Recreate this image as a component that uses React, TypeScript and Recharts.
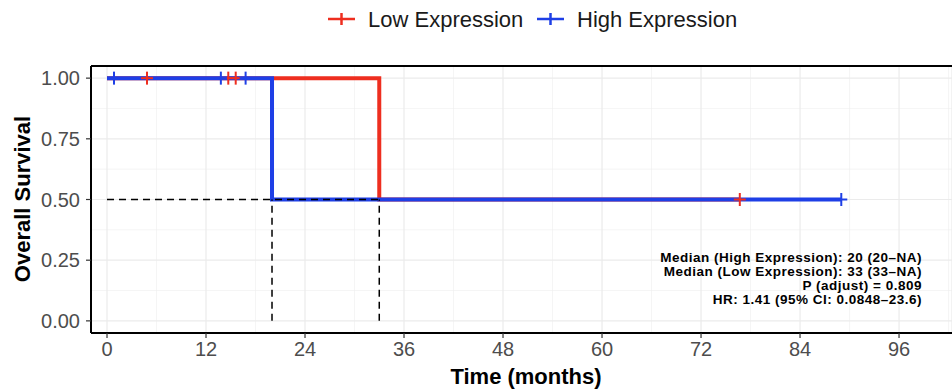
import {
  ComposedChart,
  Line,
  Scatter,
  XAxis,
  YAxis,
  CartesianGrid,
  ReferenceLine,
} from 'recharts'

// survival curves (step functions)
const lowTimes = [0, 33, 76.7]
const lowSurv = [1, 0.5, 0.5]
const highTimes = [0, 20, 89]
const highSurv = [1, 0.5, 0.5]

// censored observations
const lowCensorTimes = [4.85, 14.7, 15.6, 76.7]
const lowCensorSurv = [1, 1, 1, 0.5]
const highCensorTimes = [0.85, 13.8, 16.8, 89]
const highCensorSurv = [1, 1, 1, 0.5]

// medians
const medianHigh = 20
const medianLow = 33

const xTicks = [0, 12, 24, 36, 48, 60, 72, 84, 96]
const xMinor = [6, 18, 30, 42, 54, 66, 78, 90, 102]
const yTicks = [0, 0.25, 0.5, 0.75, 1]
const yMinor = [0.125, 0.375, 0.625, 0.875]

const annotations = [
  'Median (High Expression): 20 (20–NA)',
  'Median (Low Expression): 33 (33–NA)',
  'P (adjust) = 0.809',
  'HR: 1.41 (95% CI: 0.0848–23.6)',
]

// the panel runs past the right edge of the picture
const X_DOMAIN: [number, number] = [-1.94, 102.42]
const Y_DOMAIN: [number, number] = [-0.05, 1.05]

const RED = '#EE2E1F'
const BLUE = '#1E3FE6'
const FONT = '"Liberation Sans", Arial, sans-serif'

const toPoints = (ts: number[], ss: number[]) => ts.map((t, i) => ({ t, s: ss[i] }))

const lowData = toPoints(lowTimes, lowSurv)
const highData = toPoints(highTimes, highSurv)
const lowCensor = toPoints(lowCensorTimes, lowCensorSurv)
const highCensor = toPoints(highCensorTimes, highCensorSurv)
const medianHLine = toPoints([0, medianLow], [0.5, 0.5])
const medianVHigh = toPoints([medianHigh, medianHigh], [0, 0.5])
const medianVLow = toPoints([medianLow, medianLow], [0, 0.5])

function plus(color: string) {
  return (props: any) => {
    const { cx, cy } = props
    if (cx == null || cy == null) return <g />
    return (
      <g stroke={color} strokeWidth={2}>
        <line x1={cx - 6} x2={cx + 6} y1={cy} y2={cy} />
        <line x1={cx} x2={cx} y1={cy - 6.5} y2={cy + 6.5} />
      </g>
    )
  }
}

function scaleOf(axis: any, domain: [number, number], start: number, size: number, flip: boolean) {
  if (axis && typeof axis.scale === 'function') return (v: number) => axis.scale(v)
  return (v: number) => {
    const r = (v - domain[0]) / (domain[1] - domain[0])
    return flip ? start + size - r * size : start + r * size
  }
}

const border = { stroke: '#000', strokeWidth: 2 }

export default function App() {
  return (
    <div style={{ width: 952, height: 391, overflow: 'hidden', background: '#fff' }}>
      <style>{'html,body{margin:0;padding:0;overflow:hidden}'}</style>
      <ComposedChart
        width={952}
        height={391}
        margin={{ top: 66, right: 0, bottom: 0, left: 0 }}
        style={{ fontFamily: FONT }}
      >
        {/* minor grid */}
        <CartesianGrid
          stroke="#EEEEEE"
          strokeWidth={0.6}
          verticalCoordinatesGenerator={({ xAxis, offset }: any) => {
            const sx = scaleOf(xAxis, X_DOMAIN, offset.left, offset.width, false)
            return xMinor.map(sx)
          }}
          horizontalCoordinatesGenerator={({ yAxis, offset }: any) => {
            const sy = scaleOf(yAxis, Y_DOMAIN, offset.top, offset.height, true)
            return yMinor.map(sy)
          }}
        />
        {/* major grid */}
        <CartesianGrid stroke="#EBEBEB" strokeWidth={1.2} />
        <XAxis
          type="number"
          dataKey="t"
          domain={X_DOMAIN}
          allowDataOverflow
          ticks={xTicks}
          interval={0}
          height={58}
          tickSize={5}
          tickMargin={4}
          axisLine={border}
          tickLine={{ stroke: '#333', strokeWidth: 1.2 }}
          tick={{ fill: '#4D4D4D', fontSize: 20, fontFamily: FONT }}
        />
        <YAxis
          type="number"
          dataKey="s"
          domain={Y_DOMAIN}
          allowDataOverflow
          ticks={yTicks}
          interval={0}
          width={91}
          tickSize={5}
          tickMargin={6}
          axisLine={border}
          tickLine={{ stroke: '#333', strokeWidth: 1.2 }}
          tick={{ fill: '#4D4D4D', fontSize: 20, fontFamily: FONT }}
          tickFormatter={(v: number) => v.toFixed(2)}
        />
        <Line data={lowData} dataKey="s" type="stepAfter" stroke={RED} strokeWidth={4} dot={false} isAnimationActive={false} />
        <Line data={highData} dataKey="s" type="stepAfter" stroke={BLUE} strokeWidth={4} dot={false} isAnimationActive={false} />
        <Line data={medianHLine} dataKey="s" type="linear" stroke="#000" strokeWidth={1.5} strokeDasharray="7 5" dot={false} isAnimationActive={false} />
        <Line data={medianVHigh} dataKey="s" type="linear" stroke="#000" strokeWidth={1.5} strokeDasharray="7 5" dot={false} isAnimationActive={false} />
        <Line data={medianVLow} dataKey="s" type="linear" stroke="#000" strokeWidth={1.5} strokeDasharray="7 5" dot={false} isAnimationActive={false} />
        <Scatter data={lowCensor} shape={plus(RED)} isAnimationActive={false} />
        <Scatter data={highCensor} shape={plus(BLUE)} isAnimationActive={false} />
        {/* top of the panel border */}
        <ReferenceLine y={Y_DOMAIN[1]} {...border} ifOverflow="visible" />
        {/* annotation */}
        <text textAnchor="end" fontSize={13.5} fontWeight="bold" fill="#000" fontFamily={FONT} letterSpacing={0.5}>
          {annotations.map((a, i) => (
            <tspan key={i} x={922} y={262 + i * 14}>
              {a}
            </tspan>
          ))}
        </text>
        {/* axis titles */}
        <text x={526} y={384} textAnchor="middle" fontSize={22} fontWeight="bold" fill="#000" fontFamily={FONT}>
          Time (months)
        </text>
        <text
          x={0}
          y={0}
          transform="translate(30,199) rotate(-90)"
          textAnchor="middle"
          fontSize={22}
          fontWeight="bold"
          fill="#000"
          fontFamily={FONT}
        >
          Overall Survival
        </text>
        {/* legend */}
        <g strokeWidth={2.5}>
          <line x1={328} x2={355} y1={19} y2={19} stroke={RED} />
          <line x1={341.5} x2={341.5} y1={13} y2={25} stroke={RED} />
          <line x1={537} x2={564} y1={19} y2={19} stroke={BLUE} />
          <line x1={550.5} x2={550.5} y1={13} y2={25} stroke={BLUE} />
        </g>
        <text x={368} y={27} fontSize={22} fill="#1A1A1A" fontFamily={FONT}>
          Low Expression
        </text>
        <text x={577} y={27} fontSize={22} fill="#1A1A1A" fontFamily={FONT}>
          High Expression
        </text>
      </ComposedChart>
    </div>
  )
}
